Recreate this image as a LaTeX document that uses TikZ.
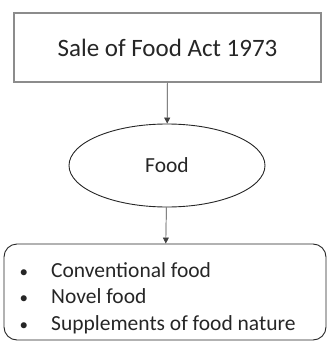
\documentclass[tikz,border=0pt]{standalone}
\usepackage{fontspec}
\setmainfont{Carlito}
\usetikzlibrary{shapes.geometric,arrows.meta}
\newcommand{\smallbullet}{{\fontsize{17}{17}\selectfont\textbullet}}
\begin{document}
\begin{tikzpicture}
[
    x=1pt, y=-1pt,
    act/.style={draw=gray!90, line width=1.6pt, minimum width=307pt, minimum height=69pt, inner sep=0pt, text=black!85, font=\fontsize{25}{30}\selectfont},
    food/.style={ellipse, draw=black!85, line width=0.9pt, minimum width=196pt, minimum height=83pt, inner sep=0pt, text=black!85, font=\fontsize{21.5}{26}\selectfont},
    kinds/.style={draw=black!85, line width=0.9pt, rounded corners=13pt, minimum width=322pt, minimum height=96pt, inner sep=0pt},
    link/.style={draw=black!75, line width=0.7pt, -{Triangle[width=6pt,length=6pt]}},
]
\useasboundingbox (0,0) rectangle (327,342);
\node[act] (act) at (167.5,47.5) {Sale of Food Act 1973};
\node[food] (food) at (167,165.5) {Food};
\node[kinds] (kinds) at (165,292) {};
\node[anchor=base west, inner sep=0pt, text=black!85, font=\fontsize{21.5}{26.5}\selectfont] (items) at (19.5,277)
    {\begin{tabular}[t]{@{}p{31.5pt}@{}l@{}}
    \smallbullet & Conventional food\\
    \smallbullet & Novel food\\
    \smallbullet & Supplements of food nature
    \end{tabular}};
\draw[link] (act) -- (food);
\draw[link] (food) -- (kinds);
\end{tikzpicture}
\end{document}
